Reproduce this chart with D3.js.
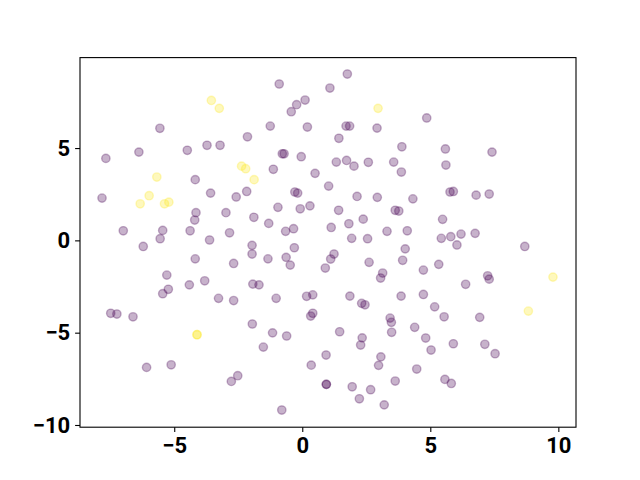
<!DOCTYPE html>
<html>
<head>
<meta charset="utf-8">
<script src="https://cdn.jsdelivr.net/npm/d3@7"></script>
<style>
  html, body { margin: 0; padding: 0; background: #fff; }
  svg text { font-family: Roboto, "Liberation Sans", sans-serif; font-weight: bold; }
</style>
</head>
<body>
<div id="chart"></div>
<script>
// class 0 (purple) points, [x, y]
const purplePoints = [
  [1.76, 9.01], [-0.90, 8.47], [1.08, 8.25], [0.11, 7.60], [-0.22, 7.35], [-0.43, 6.97],
  [-1.25, 6.19], [0.20, 6.14], [1.71, 6.19], [1.85, 6.19], [2.92, 6.08], [1.43, 5.53],
  [3.89, 5.07], [-0.78, 4.69], [-0.71, 4.69], [-0.04, 4.53], [1.33, 4.24], [1.73, 4.33],
  [2.02, 4.02], [2.58, 4.23], [3.57, 4.24], [3.87, 3.70], [-1.13, 3.85], [0.50, 3.63],
  [-5.56, 6.07], [-7.67, 4.44], [-6.38, 4.78], [-4.49, 4.88], [-3.72, 5.15], [-3.21, 5.15],
  [-2.14, 5.61], [-4.18, 3.29],
  [4.86, 6.63], [5.59, 4.95], [7.41, 4.78], [5.61, 4.08],
  [-7.82, 2.29], [-3.58, 2.56], [-2.58, 2.35], [-2.17, 2.65], [-4.15, 1.50], [-4.20, 1.10],
  [-2.98, 1.50], [-6.99, 0.52], [-5.45, 0.54], [-5.55, 0.09], [-4.38, 0.52], [-2.84, 0.41],
  [-3.62, 0.02], [-6.21, -0.33], [-4.18, -1.00], [-2.68, -1.25], [-5.29, -1.88], [-5.23, -2.65],
  [-5.45, -2.89], [-4.41, -2.41], [-3.81, -2.19], [-3.27, -3.14], [-2.68, -3.26],
  [-0.29, 2.62], [-0.18, 2.56], [1.03, 2.94], [2.14, 2.38], [2.93, 2.33], [4.32, 2.25],
  [-0.95, 1.79], [-0.08, 1.71], [0.30, 1.87], [1.42, 1.63], [3.63, 1.63], [3.77, 1.59],
  [-1.89, 1.25], [-1.31, 0.92], [-0.65, 0.49], [-0.34, 0.63], [1.13, 0.70], [1.82, 0.90],
  [2.38, 1.15], [1.93, 0.11], [2.55, 0.09], [3.31, 0.49], [4.10, 0.52], [-1.96, -0.27],
  [-1.96, -0.74], [-0.31, -0.40], [-1.34, -1.00], [-0.63, -0.92], [-0.47, -1.34], [1.24, -0.74],
  [1.11, -1.01], [0.90, -1.50], [2.61, -1.19], [4.02, -0.46], [3.92, -1.08], [3.14, -1.77],
  [3.06, -2.04], [-1.93, -2.37], [-1.69, -2.41], [-1.02, -3.14], [0.17, -3.03], [0.41, -2.95],
  [1.86, -3.02], [3.86, -3.02],
  [5.77, 2.62], [5.90, 2.65], [6.79, 2.45], [7.30, 2.51], [5.48, 1.14], [5.43, 0.11],
  [5.80, 0.20], [6.20, 0.34], [6.75, 0.38], [6.04, -0.25], [8.69, -0.33], [4.73, -1.61],
  [5.33, -1.30], [7.24, -1.92], [7.30, -2.10], [6.38, -2.38], [4.73, -2.93],
  [-7.48, -3.95], [-7.24, -3.99], [-6.61, -4.14], [-6.08, -6.88], [-5.12, -6.74],
  [-2.77, -7.64], [-2.52, -7.33],
  [2.32, -3.41], [2.45, -3.49], [0.41, -3.95], [0.33, -4.10], [-1.95, -4.53], [-1.16, -5.01],
  [-0.61, -5.18], [-1.52, -5.78], [1.46, -4.95], [2.34, -5.28], [2.28, -5.67], [3.43, -4.21],
  [3.48, -4.44], [3.49, -4.98], [0.93, -6.21], [0.35, -6.76], [3.07, -6.31], [2.98, -6.77],
  [0.94, -7.80], [0.94, -7.80], [1.95, -7.93], [2.67, -8.09], [3.63, -7.62], [2.23, -8.58],
  [3.20, -8.91], [-0.80, -9.19],
  [5.17, -3.60], [5.54, -4.14], [6.93, -4.17], [4.39, -4.71], [4.82, -5.29], [5.03, -5.94],
  [5.90, -5.60], [7.13, -5.63], [7.53, -6.14], [4.47, -6.97], [5.57, -7.53], [5.82, -7.75]
];

// class 1 (yellow) points, [x, y]
const yellowPoints = [
  [-3.55, 7.58], [-3.24, 7.15], [2.96, 7.15], [-2.37, 4.02], [-2.21, 3.88], [-1.88, 3.29],
  [-5.68, 3.43], [-5.98, 2.42], [-6.33, 1.98], [-5.38, 1.98], [-5.21, 2.07],
  [-4.11, -5.11], [-4.11, -5.11], [9.79, -1.99], [8.83, -3.83]
];

const xTicks = [-5, 0, 5, 10];
const yTicks = [-10, -5, 0, 5];

const width = 640, height = 480;
const margin = { top: 57.6, right: 64, bottom: 52.8, left: 80 };
const innerW = width - margin.left - margin.right;
const innerH = height - margin.top - margin.bottom;

const svg = d3.select('#chart').append('svg')
  .attr('width', width)
  .attr('height', height);

const g = svg.append('g')
  .attr('transform', `translate(${margin.left},${margin.top})`);

const x = d3.scaleLinear().domain([-8.68, 10.69]).range([0, innerW]);
const y = d3.scaleLinear().domain([-10.12, 9.90]).range([innerH, 0]);

const fmt = d => (d < 0 ? '\u2212' + Math.abs(d) : String(d));

const all = purplePoints.map(p => ({ p, c: '#440154' }))
  .concat(yellowPoints.map(p => ({ p, c: '#fde725' })));

g.selectAll('circle.pt')
  .data(all)
  .enter().append('circle')
  .attr('class', 'pt')
  .attr('cx', d => x(d.p[0]))
  .attr('cy', d => y(d.p[1]))
  .attr('r', 4.17)
  .attr('fill', d => d.c)
  .attr('fill-opacity', 0.3)
  .attr('stroke', d => d.c)
  .attr('stroke-opacity', 0.3)
  .attr('stroke-width', 1.4);

// frame
g.append('rect')
  .attr('x', 0).attr('y', 0)
  .attr('width', innerW).attr('height', innerH)
  .attr('fill', 'none')
  .attr('stroke', '#000')
  .attr('stroke-width', 1.1);

const xAxis = g.append('g')
  .attr('transform', `translate(0,${innerH})`)
  .call(d3.axisBottom(x).tickValues(xTicks).tickFormat(fmt).tickSize(4.9).tickPadding(4.9));

const yAxis = g.append('g')
  .call(d3.axisLeft(y).tickValues(yTicks).tickFormat(fmt).tickSize(4.9).tickPadding(4.9));

[xAxis, yAxis].forEach(a => {
  a.select('.domain').remove();
  a.selectAll('.tick line').attr('stroke', '#000').attr('stroke-width', 1.1);
  a.selectAll('.tick text')
    .attr('fill', '#000')
    .style('font-size', '22px')
    .style('font-family', 'Roboto, "Liberation Sans", sans-serif')
    .style('font-weight', 'bold');
});
</script>
</body>
</html>
